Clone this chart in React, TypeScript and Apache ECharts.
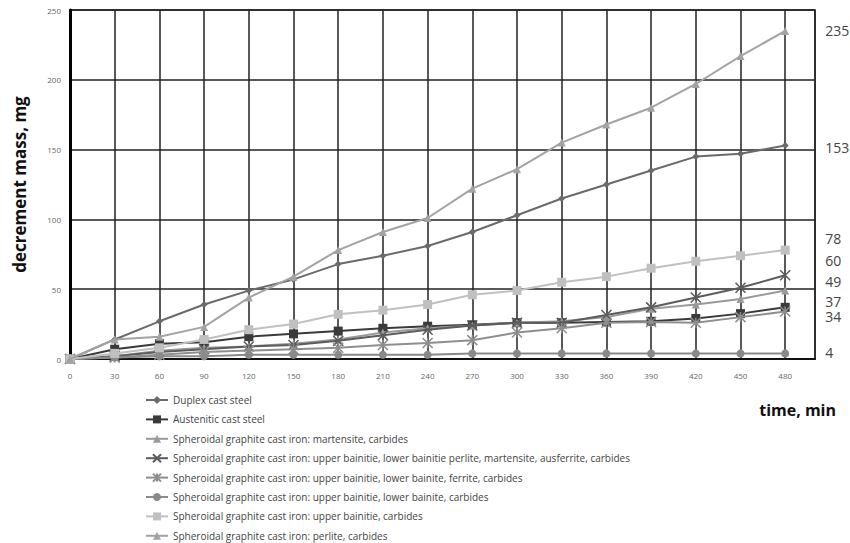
import React, { useEffect, useRef } from "react";
import * as echarts from "echarts";

const times = [0, 30, 60, 90, 120, 150, 180, 210, 240, 270, 300, 330, 360, 390, 420, 450, 480];

const seriesNames = [
  "Duplex cast steel",
  "Austenitic cast steel",
  "Spheroidal graphite cast iron: martensite, carbides",
  "Spheroidal graphite cast iron: upper bainitie, lower bainitie perlite, martensite, ausferrite, carbides",
  "Spheroidal graphite cast iron: upper bainitie, lower bainite, ferrite, carbides",
  "Spheroidal graphite cast iron: upper bainitie, lower bainite, carbides",
  "Spheroidal graphite cast iron: upper bainitie, carbides",
  "Spheroidal graphite cast iron: perlite, carbides",
];

const duplex = [0, 14, 27, 39, 49, 57, 68, 74, 81, 91, 103, 115, 125, 135, 145, 147, 153];
const austenitic = [0, 7, 11, 12, 16, 18, 20, 22, 23.5, 24.5, 26, 26, 26.5, 27, 29, 32.5, 37];
const martensite = [0, 2, 6, 8, 9, 11, 14, 19, 22, 24, 26, 27, 30, 36, 39, 43, 49];
const upperLowerPerlite = [0, 2, 5, 7, 9, 10, 13, 17, 21, 24, 26, 26, 31.5, 37, 44, 51, 60];
const upperLowerFerrite = [0, 1, 3, 5, 6, 7, 8, 10, 11.5, 13.5, 19, 22, 26, 26.5, 26, 30, 34];
const upperLowerCarbides = [0, 1, 2, 2, 3, 3, 3, 3, 3, 4, 4, 4, 4, 4, 4, 4, 4];
const upperCarbides = [0, 4, 8, 14, 21, 25, 32, 35, 39, 46, 49, 55, 59, 65, 70, 74, 78];
const perlite = [0, 14, 16, 23, 44, 59, 78, 91, 101, 122, 136, 155, 168, 180, 197, 217, 235];

const endValues = [153, 37, 49, 60, 34, 4, 78, 235];

const yTicks = [0, 50, 100, 150, 200, 250];

const App: React.FC = () => {
  const ref = useRef<HTMLDivElement>(null);
  useEffect(() => {
    if (!ref.current) return;
    const chart = echarts.init(ref.current, null, { renderer: "svg" });
    const allValues = [duplex, austenitic, martensite, upperLowerPerlite, upperLowerFerrite, upperLowerCarbides, upperCarbides, perlite];
    const colors = ["#6a6a6a", "#3a3a3a", "#9a9a9a", "#5c5c5c", "#8e8e8e", "#8a8a8a", "#c0c0c0", "#a3a3a3"];
    const symbols = [
      "diamond",
      "rect",
      "triangle",
      "path://M0,0L10,10M10,0L0,10",
      "path://M0,0L10,10M10,0L0,10M5,0L5,10",
      "circle",
      "rect",
      "triangle",
    ];
    const symbolSizes = [7, 9, 8, 10, 10, 8, 9, 8];
    const labelOffsets: [number, number][] = [
      [32, 2],
      [32, -6],
      [32, -9],
      [32, -15],
      [32, 5],
      [32, -1],
      [32, -12],
      [32, 0],
    ];
    const series = allValues.map((vals, i) => {
      const isStroke = symbols[i].startsWith("path://");
      return {
        name: seriesNames[i],
        type: "line",
        data: vals.map((v, j) => [times[j], v]),
        symbol: symbols[i],
        symbolSize: symbolSizes[i],
        color: colors[i],
        lineStyle: { width: 2, color: colors[i] },
        itemStyle: isStroke
          ? { color: "rgba(0,0,0,0)", borderColor: colors[i], borderWidth: 1.5 }
          : { color: colors[i] },
        endLabel: {
          show: true,
          formatter: () => String(endValues[i]),
          offset: labelOffsets[i],
          fontFamily: "'Open Sans', sans-serif",
          fontSize: 14,
          color: "#444",
        },
        z: 3 + i,
      };
    });

    chart.setOption({
      animation: false,
      backgroundColor: "#fff",
      textStyle: { fontFamily: "'Open Sans', sans-serif" },
      title: {
        text: "time, min",
        right: 9,
        top: 397,
        textStyle: { fontSize: 16, fontWeight: "bold", color: "#111", fontFamily: "'Open Sans', sans-serif" },
      },
      grid: {
        left: 70,
        top: 10,
        right: 35,
        bottom: 184,
        show: true,
        borderColor: "#222",
        borderWidth: 1.5,
      },
      legend: {
        orient: "vertical",
        left: 140,
        top: 390,
        height: 153,
        itemWidth: 22,
        itemHeight: 10,
        itemGap: 9.4,
        data: seriesNames.map((n) => ({ name: n })),
        textStyle: { fontSize: 10, color: "#444", lineHeight: 10, fontFamily: "'Open Sans', sans-serif" },
      },
      xAxis: {
        type: "value",
        min: 0,
        max: 500,
        interval: 30,
        axisLine: { show: true, lineStyle: { color: "#111", width: 2 } },
        axisTick: { show: false },
        axisLabel: {
          fontSize: 8,
          color: "#666",
          margin: 12,
          formatter: (v: number) => (v > 480 ? "" : String(v)),
        },
        splitLine: { show: true, lineStyle: { color: "#222", width: 1.5 } },
      },
      yAxis: {
        type: "value",
        min: yTicks[0],
        max: yTicks[yTicks.length - 1],
        interval: 50,
        name: "decrement mass, mg",
        nameLocation: "middle",
        nameGap: 42,
        nameTextStyle: { fontSize: 17, fontWeight: "bold", color: "#111", fontFamily: "'Open Sans', sans-serif" },
        axisLine: { show: true, lineStyle: { color: "#000", width: 3 } },
        axisTick: { show: false },
        axisLabel: { fontSize: 8, color: "#666", margin: 9 },
        splitLine: { show: true, lineStyle: { color: "#222", width: 1.5 } },
      },
      series,
    });
    return () => chart.dispose();
  }, []);
  return <div ref={ref} style={{ position: "fixed", left: 0, top: 0, width: 850, height: 543 }} />;
};

export default App;
